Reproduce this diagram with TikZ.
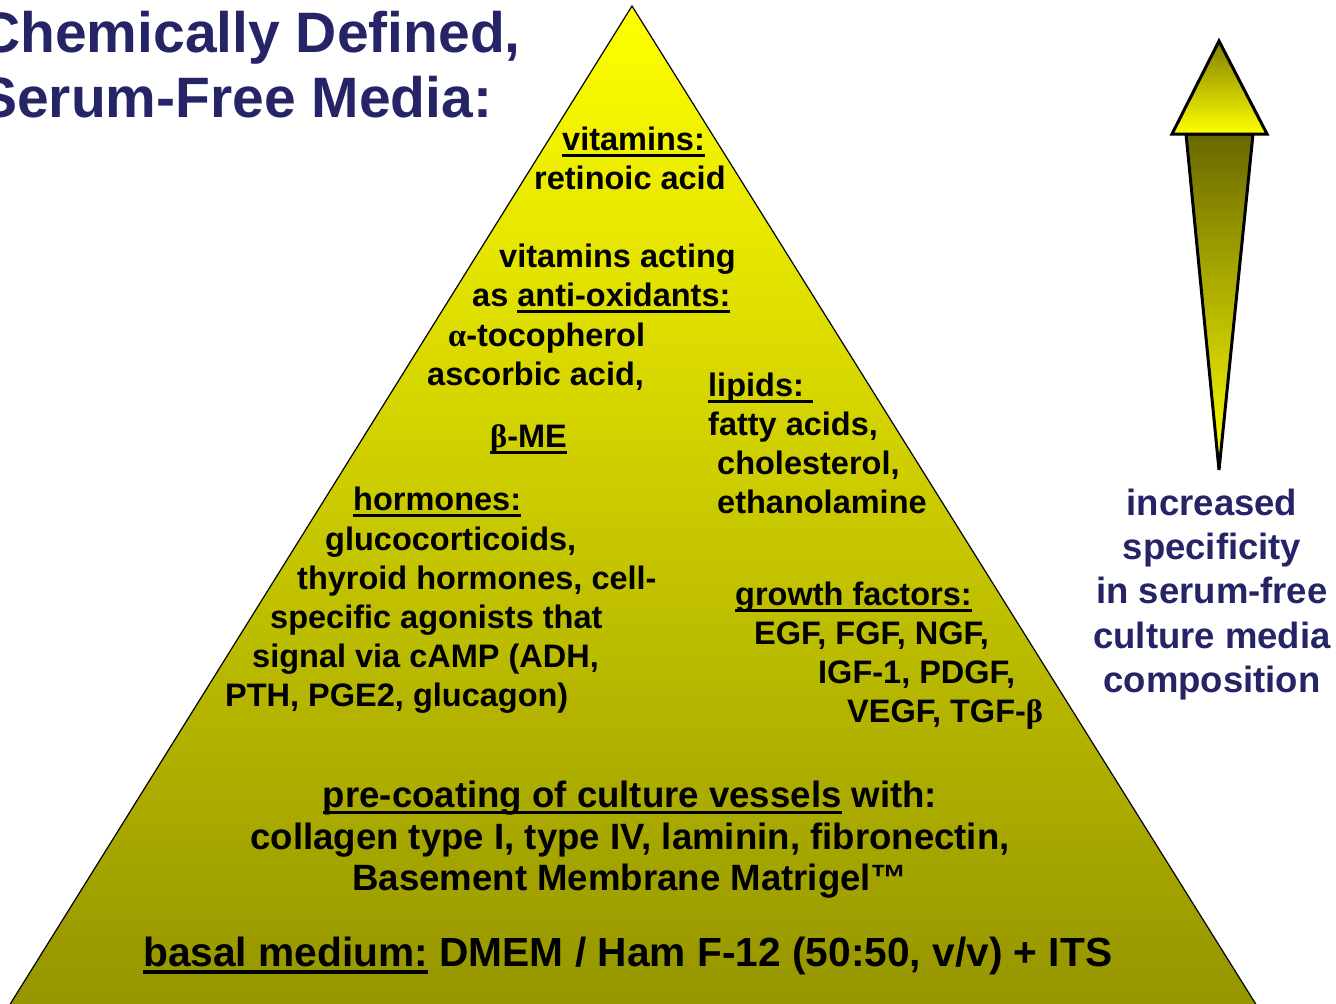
\documentclass[tikz,border=0pt]{standalone}
\usepackage{fontspec}
\setmainfont{Liberation Sans}
\newfontfamily\greekfont{Liberation Serif}

\definecolor{titleblue}{RGB}{36,36,102}
\definecolor{pyrtop}{RGB}{255,255,0}
\definecolor{pyrbottom}{RGB}{148,148,0}
\definecolor{headtop}{RGB}{128,128,0}
\definecolor{shafttop}{RGB}{104,104,0}

\newcommand\uln[1]{\sbox0{#1}\rlap{\rule[-0.2em]{\wd0}{0.09em}}\usebox0}
\newcommand\gr[1]{{\greekfont #1}}

\begin{document}
\begin{tikzpicture}[x=1pt, y=-1pt,
  pyrtext/.style={font=\fontsize{32.5}{39}\selectfont\bfseries, inner sep=0pt, anchor=base west},
  basetext/.style={font=\fontsize{36.6}{44}\selectfont\bfseries, inner sep=0pt, anchor=base},
  titletext/.style={font=\fontsize{57}{65}\selectfont\bfseries, text=titleblue, inner sep=0pt, anchor=base west},
  sidetext/.style={font=\fontsize{36.5}{44.5}\selectfont\bfseries, text=titleblue, inner sep=0pt, anchor=base}]
  \useasboundingbox (0,0) rectangle (1336,1004);
  \clip (0,0) rectangle (1336,1004);

  % pyramid
  \shadedraw[top color=pyrtop, bottom color=pyrbottom, draw=black, line width=1.2pt]
    (632,6) -- (4,1014) -- (1262,1014) -- cycle;

  % arrow
  \shadedraw[top color=shafttop, bottom color=pyrtop, line width=3pt]
    (1186,134) -- (1219,470) -- (1253,134) -- cycle;
  \shadedraw[top color=headtop, bottom color=pyrtop, line width=3pt]
    (1219,41) -- (1172,134) -- (1267,134) -- cycle;

  \node[titletext] (title-1) at (-21,52) {Chemically Defined,};
  \node[titletext] (title-2) at (-21,117) {Serum-Free Media:};

  \foreach \y/\txt [count=\k] in {515/increased, 559/specificity, 603/in serum-free,
      648/culture media, 692/composition}
    \node[sidetext] (side-\k) at (1212,\y) {\txt};

  \node[pyrtext] (vit-1) at (562,150) {\uln{vitamins:}};
  \node[pyrtext] (vit-2) at (534,189) {retinoic acid};

  \foreach \x/\y/\txt [count=\k] in {499/267/{vitamins acting}, 472/306/{as \uln{anti-oxidants:}},
      448/346/{\gr{α}-tocopherol}, 427/385/{ascorbic acid,}}
    \node[pyrtext] (antiox-\k) at (\x,\y) {\txt};

  \node[pyrtext] (bme) at (490,447) {\uln{\gr{β}-ME}};

  \foreach \x/\y/\txt [count=\k] in {353/510/{\uln{hormones:}}, 325/550/{glucocorticoids,},
      297/589/{thyroid hormones, cell-}, 270/628/{specific agonists that},
      252/667/{signal via cAMP (ADH,}, 225/706/{PTH, PGE2, glucagon)}}
    \node[pyrtext] (horm-\k) at (\x,\y) {\txt};

  \foreach \x/\y/\txt [count=\k] in {708/396/{\uln{lipids:\ }}, 708/435/{fatty acids,},
      717/474/{cholesterol,}, 717/513/{ethanolamine}}
    \node[pyrtext] (lipid-\k) at (\x,\y) {\txt};

  \foreach \x/\y/\txt [count=\k] in {735/605/{\uln{growth factors:}}, 754/644/{EGF, FGF, NGF,},
      818/683/{IGF-1, PDGF,}, 847/722/{VEGF, TGF-\gr{β}}}
    \node[pyrtext] (growth-\k) at (\x,\y) {\txt};

  \foreach \y/\txt [count=\k] in {807/{\uln{pre-coating of culture vessels} with:},
      849/{collagen type I, type IV, laminin, fibronectin,},
      890/{Basement Membrane Matrigel™}}
    \node[basetext] (coat-\k) at (630,\y) {\txt};

  \node[pyrtext, font=\fontsize{40.7}{48}\selectfont\bfseries] (basal) at (143,966)
    {\uln{basal medium:} DMEM / Ham F-12 (50:50, v/v) + ITS};
\end{tikzpicture}
\end{document}
